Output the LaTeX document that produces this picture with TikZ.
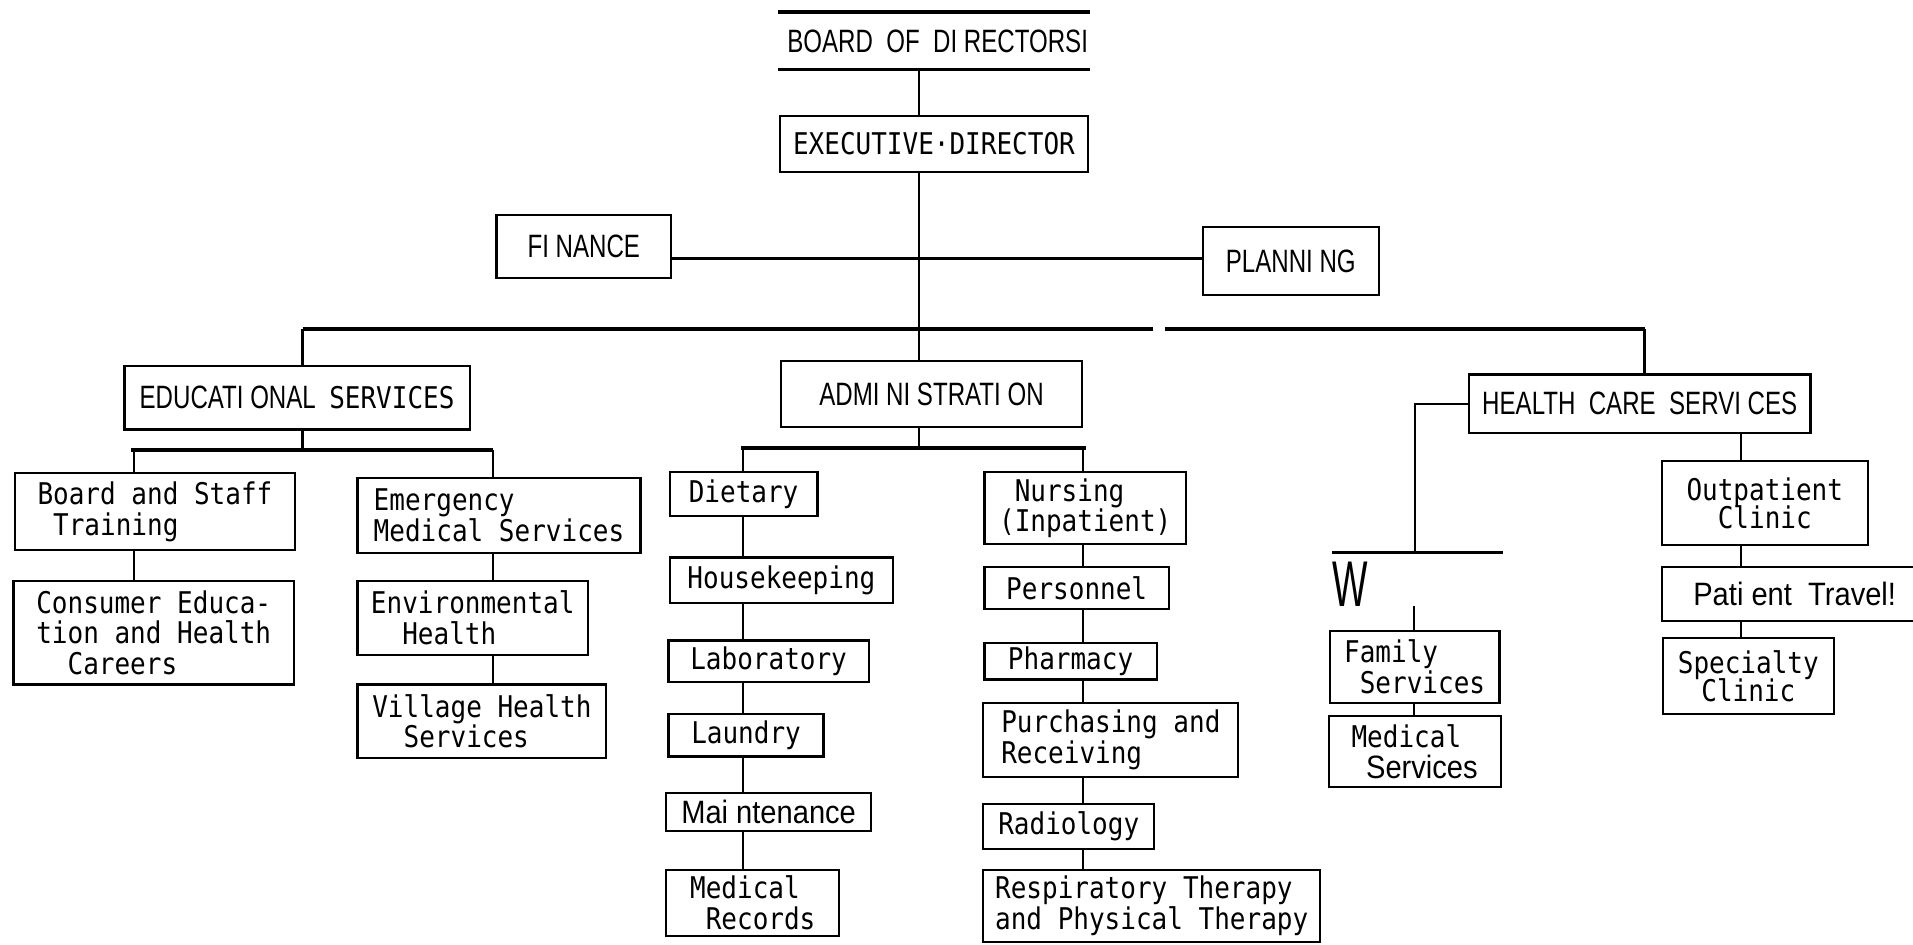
\documentclass[tikz,border=0pt]{standalone}
\usepackage{fontspec}
\usepackage{graphicx}
\newfontfamily\tw[FakeStretch=0.87]{DejaVu Sans Mono}
\newfontfamily\thin[FakeStretch=0.745]{Liberation Sans}
\newfontfamily\thinw[FakeStretch=0.9]{Liberation Sans}
\newcommand\chs{\phantom{x}}
\tikzset{
  box/.style={draw, line width=1.8pt, inner sep=0pt, align=left},
  twf/.style={font=\tw\fontsize{24.5}{25}\selectfont},
  thf/.style={font=\thin\fontsize{26.5}{30}\selectfont},
  thw/.style={font=\thinw\fontsize{26.5}{30}\selectfont},
  conn/.style={line width=1.8pt},
  bus/.style={line width=3.4pt},
}
\begin{document}
\begin{tikzpicture}[x=1pt,y=-1pt]
\useasboundingbox (0,0) rectangle (1568,774);
\fill[white] (0,0) rectangle (1568,774);

% top level
\node[thf, inner sep=0pt, minimum width=255pt, minimum height=47pt] (board) at (765.5,33.5) {\hspace*{6pt}BOARD\ \ OF\ \ DI RECTORSI};
\draw[line width=2.6pt] (board.north west) -- (board.north east);
\draw[line width=2.6pt] (board.south west) -- (board.south east);
\node[box, twf, minimum width=253pt, minimum height=46pt] (exec) at (765.5,118) {EXECUTIVE·DIRECTOR};
\node[box, thf, minimum width=143pt, minimum height=52pt] (finance) at (478.5,202) {FI NANCE};
\node[box, thf, minimum width=144pt, minimum height=56pt] (planning) at (1058,214) {PLANNI NG};

% second level
\node[box, thf, minimum width=283pt, minimum height=52pt] (edu) at (243.5,326) {EDUCATI ONAL\ \ {\tw\fontsize{24.5}{30}\selectfont SERVICES}};
\node[box, thf, minimum width=247pt, minimum height=54pt] (admin) at (763.5,323) {ADMI NI STRATI ON};
\node[box, thf, minimum width=280pt, minimum height=48pt] (health) at (1344,331) {HEALTH\ \ CARE\ \ SERVI CES};

% educational services
\node[box, twf, minimum width=230pt, minimum height=63pt] (bst) at (127,419.5) {Board and Staff\\\chs Training};
\node[box, twf, minimum width=230pt, minimum height=85pt] (cons) at (126,518.5) {Consumer Educa-\\tion and Health\\\chs\chs Careers};
\node[box, twf, minimum width=232pt, minimum height=61pt] (ems) at (409,422.5) {Emergency\\Medical Services};
\node[box, twf, minimum width=189pt, minimum height=61pt] (env) at (387.5,506.5) {Environmental\\\chs\chs Health};
\node[box, twf, minimum width=204pt, minimum height=60pt] (vhs) at (395,591) {Village Health\\\chs\chs Services};

% administration, left column
\node[box, twf, minimum width=121pt, minimum height=36pt] (diet) at (609.5,405) {Dietary};
\node[box, twf, minimum width=183pt, minimum height=37pt] (house) at (640.5,475.5) {Housekeeping};
\node[box, twf, minimum width=164pt, minimum height=34pt] (lab) at (630,542) {Laboratory};
\node[box, twf, minimum width=127pt, minimum height=35pt] (laund) at (611.5,602.5) {Laundry};
\node[box, thw, minimum width=168pt, minimum height=31pt] (maint) at (630,665.5) {Mai ntenance};
\node[box, twf, minimum width=142pt, minimum height=54pt] (medrec) at (617,740) {Medical\\\chs Records};

% administration, right column
\node[box, twf, minimum width=165pt, minimum height=59pt] (nurs) at (889.5,416.5) {\chs Nursing\\(Inpatient)};
\node[box, twf, minimum width=151pt, minimum height=34pt] (pers) at (882.5,482) {Personnel};
\node[box, twf, minimum width=141pt, minimum height=30pt] (pharm) at (877.5,542) {Pharmacy};
\node[box, twf, minimum width=209pt, minimum height=61pt] (purch) at (910.5,606.5) {Purchasing and\\Receiving};
\node[box, twf, minimum width=140pt, minimum height=37pt] (radio) at (876,677.5) {Radiology};
\node[box, twf, minimum width=276pt, minimum height=59pt] (resp) at (944,742.5) {Respiratory Therapy\\and Physical Therapy};

% health care services
\node[font=\thin\fontsize{53}{53}\selectfont, inner sep=0pt] (w) at (1107,479) {\scalebox{0.78}[1]{W}};
\node[box, twf, minimum width=139pt, minimum height=59pt] (fam) at (1159.5,546.5) {Family\\\chs Services};
\node[box, twf, minimum width=141pt, minimum height=58pt] (meds) at (1159.5,616) {Medical\\{\thinw\fontsize{26.5}{25}\selectfont\chs Services}};
\node[box, twf, align=center, minimum width=169pt, minimum height=69pt] (outp) at (1446.5,412.5) {Outpatient\\[-2pt]Clinic};
\node[box, thw, minimum width=218pt, minimum height=44pt] (ptrav) at (1471,487) {Pati ent\ \ Travel!};
\node[box, twf, align=center, minimum width=140pt, minimum height=62pt] (spec) at (1433,554) {Specialty\\[-2pt]Clinic};

% connectors, top
\coordinate (sp) at (753,0);
\draw[conn] (board.south -| sp) -- (exec.north -| sp);
\draw[conn] (exec.south -| sp) -- (admin.north -| sp);
\coordinate (fp) at (753,212);
\draw[line width=3pt] (finance.east |- fp) -- (planning.west |- fp);
\coordinate (bl) at (248,270);
\coordinate (br) at (1348,270);
\coordinate (g1) at (945,270);
\coordinate (g2) at (955,270);
\draw[bus] (bl) -- (g1);
\draw[bus] (g2) -- (br);
\draw[conn] (bl) -- (edu.north -| bl);
\draw[line width=3pt] (br) -- (health.north -| br);

% educational connectors
\coordinate (eb) at (248,369);
\coordinate (ebl) at (107,369);
\coordinate (ebr) at (404,369);
\coordinate (e1) at (110,369);
\draw[conn] (edu.south -| eb) -- (eb);
\draw[bus] (ebl) -- (ebr);
\draw[conn] (e1) -- (bst.north -| e1);
\draw[conn] (ebr) -- (ems.north -| ebr);
\draw[conn] (bst.south -| e1) -- (cons.north -| e1);
\draw[conn] (ems.south -| ebr) -- (env.north -| ebr);
\draw[conn] (env.south -| ebr) -- (vhs.north -| ebr);

% administration connectors
\coordinate (ab) at (753,367);
\coordinate (abl) at (607,367);
\coordinate (abr) at (890,367);
\coordinate (a1) at (609,367);
\coordinate (a2) at (888,367);
\draw[conn] (admin.south -| ab) -- (ab);
\draw[line width=3pt] (abl) -- (abr);
\draw[conn] (a1) -- (diet.north -| a1);
\draw[conn] (diet.south -| a1) -- (house.north -| a1);
\draw[conn] (house.south -| a1) -- (lab.north -| a1);
\draw[conn] (lab.south -| a1) -- (laund.north -| a1);
\draw[conn] (laund.south -| a1) -- (maint.north -| a1);
\draw[conn] (maint.south -| a1) -- (medrec.north -| a1);
\draw[conn] (a2) -- (nurs.north -| a2);
\draw[conn] (nurs.south -| a2) -- (pers.north -| a2);
\draw[conn] (pers.south -| a2) -- (pharm.north -| a2);
\draw[conn] (pharm.south -| a2) -- (purch.north -| a2);
\draw[conn] (purch.south -| a2) -- (radio.north -| a2);
\draw[conn] (radio.south -| a2) -- (resp.north -| a2);

% health care connectors
\coordinate (hl) at (1160,453);
\coordinate (hll) at (1092,453);
\coordinate (hlr) at (1232,453);
\coordinate (fw) at (1159,497);
\draw[conn] (health.west) -| (hl);
\draw[line width=2.6pt] (hll) -- (hlr);
\draw[conn] (fw) -- (fam.north -| fw);
\draw[conn] (fam.south -| fw) -- (meds.north -| fw);
\coordinate (hr) at (1427,0);
\draw[conn] (health.south -| hr) -- (outp.north -| hr);
\draw[conn] (outp.south -| hr) -- (ptrav.north -| hr);
\draw[conn] (ptrav.south -| hr) -- (spec.north -| hr);
\end{tikzpicture}
\end{document}
